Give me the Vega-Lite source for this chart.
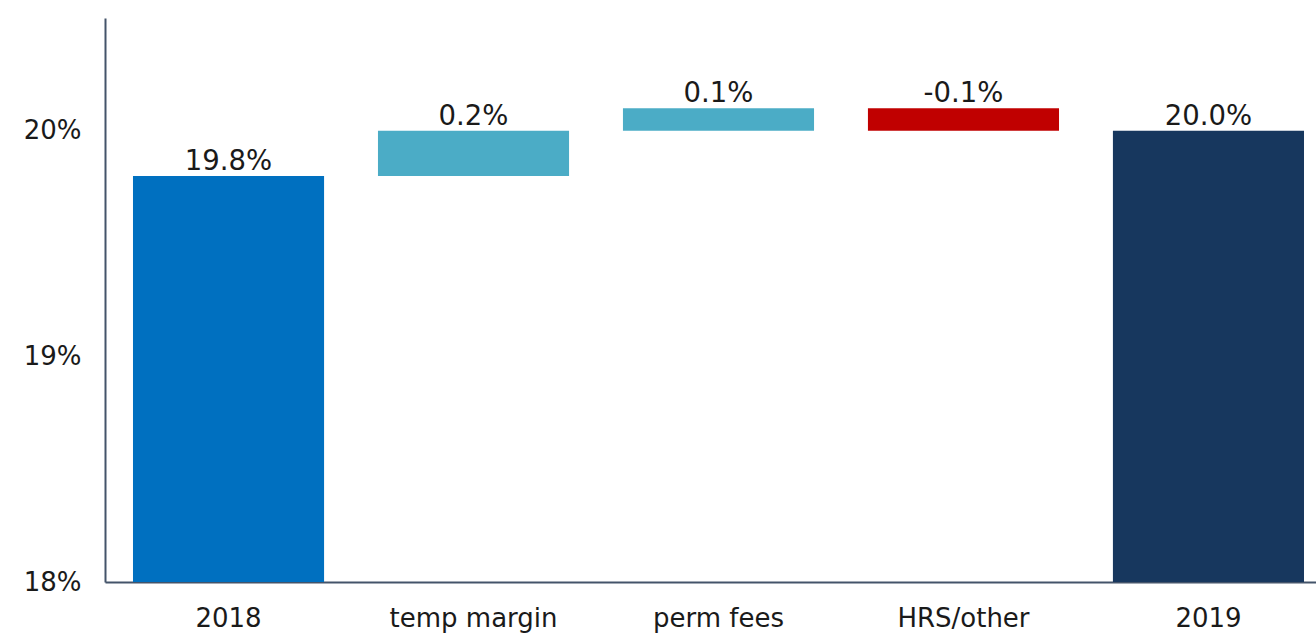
{
  "$schema": "https://vega.github.io/schema/vega-lite/v6.json",
  "width": 1211,
  "height": 564,
  "autosize": {"type": "none"},
  "padding": {"left": 105, "top": 18, "right": 0, "bottom": 57},
  "background": "white",
  "config": {"view": {"stroke": null}, "font": "DejaVu Sans"},
  "data": {
    "values": [
      {"category": "2018", "start": 18, "end": 19.8, "top": 19.8, "label": "19.8%", "kind": "start"},
      {"category": "temp margin", "start": 19.8, "end": 20.0, "top": 20.0, "label": "0.2%", "kind": "increase"},
      {"category": "perm fees", "start": 20.0, "end": 20.1, "top": 20.1, "label": "0.1%", "kind": "increase"},
      {"category": "HRS/other", "start": 20.1, "end": 20.0, "top": 20.1, "label": "-0.1%", "kind": "decrease"},
      {"category": "2019", "start": 18, "end": 20.0, "top": 20.0, "label": "20.0%", "kind": "end"}
    ]
  },
  "encoding": {
    "x": {
      "field": "category",
      "type": "nominal",
      "sort": null,
      "scale": {"paddingInner": 0.22, "paddingOuter": 0.0816, "align": 0.7},
      "axis": {
        "title": null,
        "labelAngle": 0,
        "labelFontSize": 26,
        "labelColor": "#1a1a1a",
        "labelPadding": 23,
        "ticks": false,
        "domainColor": "#44546A",
        "domainWidth": 2
      }
    }
  },
  "layer": [
    {
      "mark": {"type": "bar"},
      "encoding": {
        "y": {
          "field": "start",
          "type": "quantitative",
          "scale": {"domain": [18, 20.5], "zero": false, "nice": false},
          "axis": {
            "title": null,
            "values": [18, 19, 20],
            "labelExpr": "datum.value + '%'",
            "labelFontSize": 26,
            "labelColor": "#1a1a1a",
            "labelPadding": 24,
            "ticks": false,
            "grid": false,
            "domainColor": "#44546A",
            "domainWidth": 2
          }
        },
        "y2": {"field": "end"},
        "color": {
          "field": "kind",
          "type": "nominal",
          "scale": {
            "domain": ["start", "increase", "decrease", "end"],
            "range": ["#0070C0", "#4BACC6", "#C00000", "#17375E"]
          },
          "legend": null
        }
      }
    },
    {
      "mark": {"type": "text", "baseline": "alphabetic", "dy": -6, "fontSize": 27.5, "color": "#1a1a1a"},
      "encoding": {
        "y": {"field": "top", "type": "quantitative"},
        "text": {"field": "label", "type": "nominal"}
      }
    }
  ]
}
